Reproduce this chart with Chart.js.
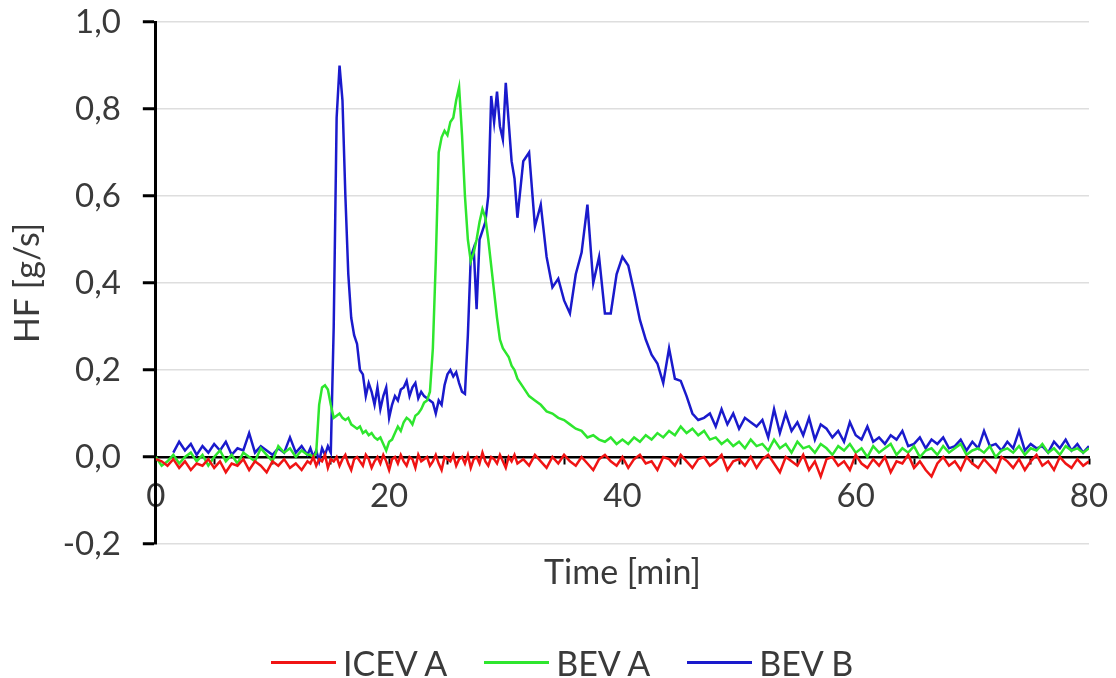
<!DOCTYPE html>
<html>
<head>
<meta charset="utf-8">
<script src="https://cdn.jsdelivr.net/npm/chart.js@4.4.1/dist/chart.umd.min.js"></script>
<style>
  html, body { margin: 0; padding: 0; background: #fff; }
  #wrap { position: relative; width: 1116px; height: 678px; }
  #legend {
    position: absolute; left: 271px; top: 642px; height: 40px;
    display: flex; align-items: center;
    font-family: Lato, sans-serif; font-size: 34px; color: #3a3a3a;
  }
  #legend .sw { display: inline-block; width: 65px; height: 3px; margin-right: 7px; }
  #legend .lb { margin-right: 37px; }
</style>
</head>
<body>
<div id="wrap">
  <canvas id="chart"></canvas>
  <div id="legend"></div>
</div>
<script>
// ─── Data ───────────────────────────────────────────────────────────────────

const TIME = [
  0, 0.5, 1, 1.5, 2, 2.5, 3, 3.5, 4, 4.5, 5, 5.5, 6, 6.5, 7, 7.5, 8, 8.5, 9, 9.5, 10, 10.5, 11, 11.5, 12, 12.5, 13,
  13.25, 13.5, 13.75, 14, 14.25, 14.5, 14.75, 15,
  15.25, 15.5, 15.75, 16, 16.25, 16.5, 16.75, 17,
  17.25, 17.5, 17.75, 18, 18.25, 18.5, 18.75, 19,
  19.25, 19.5, 19.75, 20, 20.25, 20.5, 20.75, 21,
  21.25, 21.5, 21.75, 22, 22.25, 22.5, 22.75, 23,
  23.25, 23.5, 23.75, 24, 24.25, 24.5, 24.75, 25,
  25.25, 25.5, 25.75, 26, 26.25, 26.5, 26.75, 27,
  27.25, 27.5, 27.75, 28, 28.25, 28.5, 28.75, 29,
  29.25, 29.5, 29.75, 30, 30.25, 30.5, 30.75, 31,
  31.5, 32, 32.5, 33, 33.5, 34, 34.5, 35, 35.5, 36,
  36.5, 37, 37.5, 38, 38.5, 39, 39.5, 40, 40.5, 41,
  41.5, 42, 42.5, 43, 43.5, 44, 44.5, 45, 45.5, 46,
  46.5, 47, 47.5, 48, 48.5, 49, 49.5, 50, 50.5, 51,
  51.5, 52, 52.5, 53, 53.5, 54, 54.5, 55, 55.5, 56,
  56.5, 57, 57.5, 58, 58.5, 59, 59.5, 60, 60.5, 61,
  61.5, 62, 62.5, 63, 63.5, 64, 64.5, 65, 65.5, 66,
  66.5, 67, 67.5, 68, 68.5, 69, 69.5, 70, 70.5, 71,
  71.5, 72, 72.5, 73, 73.5, 74, 74.5, 75, 75.5, 76,
  76.5, 77, 77.5, 78, 78.5, 79, 79.5, 80
];

const ICEV_A = [
  -0.005, -0.01, -0.02, -0.005, -0.025, -0.01, -0.03, -0.015, -0.02, -0.005, -0.025, -0.01, -0.035, -0.015,
  -0.02, -0.005, -0.03, -0.01, -0.02, -0.035, -0.01, -0.02, -0.005, -0.025, -0.015, -0.03, -0.01,
  -0.015, 0.0, -0.02, -0.005, -0.01, 0.005, -0.025, -0.005,
  -0.01, 0.0, -0.02, -0.005, 0.005, -0.015, -0.03, -0.005,
  0.0, -0.01, -0.02, 0.005, -0.005, -0.025, -0.01, 0.0,
  -0.015, 0.005, -0.01, -0.03, -0.005, 0.0, -0.015, 0.005,
  -0.01, -0.02, 0.0, -0.005, -0.025, 0.005, -0.01, -0.005,
  0.0, -0.02, -0.01, 0.005, -0.015, -0.03, 0.0, -0.005,
  -0.01, 0.005, -0.02, -0.005, 0.0, -0.015, 0.005, -0.025,
  -0.005, 0.0, -0.015, 0.01, -0.01, -0.02, 0.0, -0.005,
  -0.015, 0.005, -0.01, -0.025, 0.0, -0.01, 0.005, -0.015,
  -0.005, -0.02, 0.005, -0.01, -0.025, 0.0, -0.015, 0.005, -0.01, -0.02,
  0.0, -0.015, -0.03, -0.005, 0.005, -0.01, -0.02, 0.0, -0.025, -0.005,
  0.005, -0.015, -0.01, -0.03, 0.0, -0.005, -0.02, 0.005, -0.01, -0.025,
  -0.005, 0.0, -0.02, -0.01, 0.005, -0.03, -0.01, -0.005, -0.02, 0.0,
  -0.025, -0.005, 0.005, -0.015, -0.035, 0.0, -0.01, -0.02, 0.005, -0.03,
  -0.01, -0.045, -0.005, 0.0, -0.02, -0.01, -0.03, 0.005, -0.015, -0.025,
  -0.005, -0.02, 0.0, -0.035, -0.01, -0.015, 0.005, -0.025, -0.01, -0.03,
  -0.045, -0.015, 0.0, -0.02, -0.01, -0.03, 0.0, -0.015, -0.025, -0.005,
  -0.02, -0.035, 0.0, -0.01, -0.025, -0.005, -0.03, -0.01, 0.005, -0.02,
  -0.01, -0.03, 0.0, -0.015, -0.025, -0.005, -0.02, -0.01
];

const BEV_A = [
  0.0, -0.02, -0.01, 0.005, -0.015, 0.0, 0.01, -0.01, 0.005, -0.02, 0.0, 0.015, -0.01, 0.005,
  -0.015, 0.01, 0.0, -0.01, 0.02, 0.005, -0.01, 0.025, 0.01, 0.02, 0.0, 0.015, 0.005,
  0.005, 0.0, 0.01, 0.12, 0.16, 0.165, 0.155, 0.12,
  0.09, 0.095, 0.1, 0.09, 0.085, 0.09, 0.075, 0.07,
  0.065, 0.07, 0.055, 0.06, 0.05, 0.055, 0.045, 0.04,
  0.045, 0.03, 0.015, 0.035, 0.04, 0.055, 0.07, 0.06,
  0.08, 0.09, 0.085, 0.075, 0.095, 0.1, 0.11, 0.125,
  0.13, 0.15, 0.25, 0.45, 0.7, 0.735, 0.75, 0.74,
  0.77, 0.78, 0.82, 0.85, 0.74, 0.6, 0.5, 0.45,
  0.47, 0.5, 0.54, 0.57, 0.55, 0.5, 0.44, 0.38,
  0.32, 0.27, 0.25, 0.24, 0.23, 0.21, 0.2, 0.18,
  0.16, 0.14, 0.13, 0.12, 0.105, 0.1, 0.09, 0.085, 0.075, 0.065,
  0.06, 0.045, 0.05, 0.04, 0.035, 0.045, 0.03, 0.04, 0.03, 0.045,
  0.035, 0.05, 0.04, 0.055, 0.045, 0.06, 0.05, 0.07, 0.055, 0.065,
  0.05, 0.06, 0.04, 0.045, 0.03, 0.04, 0.025, 0.035, 0.02, 0.04,
  0.025, 0.03, 0.015, 0.04, 0.02, 0.03, 0.01, 0.035, 0.02, 0.025,
  0.01, 0.03, 0.02, 0.005, 0.025, 0.015, 0.03, 0.01, 0.02, 0.0,
  0.025, 0.01, 0.02, 0.03, 0.005, 0.02, 0.01, 0.025, 0.0, 0.015,
  0.02, 0.005, 0.025, 0.01, 0.02, 0.03, 0.005, 0.015, 0.02, 0.01,
  0.025, 0.0, 0.015, 0.02, 0.01, 0.025, 0.005, 0.02, 0.015, 0.03,
  0.01, 0.02, 0.005, 0.025, 0.015, 0.02, 0.01, 0.02
];

const BEV_B = [
  null, null, null, 0.01, 0.035, 0.015, 0.03, 0.005, 0.025, 0.01, 0.03, 0.015, 0.035, 0.005,
  0.02, 0.015, 0.055, 0.01, 0.025, 0.015, 0.005, 0.02, 0.01, 0.045, 0.01, 0.025, 0.005,
  0.02, 0.0, 0.015, -0.01, 0.02, 0.005, 0.025, 0.01,
  0.3, 0.78, 0.9, 0.82, 0.6, 0.42, 0.32, 0.28,
  0.26, 0.2, 0.19, 0.14, 0.17, 0.15, 0.12, 0.16,
  0.11, 0.14, 0.16, 0.09, 0.12, 0.14, 0.13, 0.155,
  0.16, 0.175, 0.14, 0.16, 0.17, 0.135, 0.15, 0.14,
  0.135, 0.13, 0.125, 0.1, 0.13, 0.12, 0.165, 0.19,
  0.2, 0.185, 0.195, 0.17, 0.15, 0.145, 0.28, 0.46,
  0.48, 0.34, 0.5, 0.52, 0.54, 0.6, 0.83, 0.77,
  0.84, 0.76, 0.73, 0.86, 0.77, 0.68, 0.64, 0.55,
  0.68, 0.7, 0.53, 0.58, 0.46, 0.39, 0.41, 0.36, 0.33, 0.42,
  0.47, 0.58, 0.4, 0.46, 0.33, 0.33, 0.42, 0.46, 0.44, 0.38,
  0.315, 0.27, 0.235, 0.215, 0.17, 0.25, 0.18, 0.175, 0.14, 0.1,
  0.085, 0.09, 0.1, 0.07, 0.11, 0.075, 0.1, 0.065, 0.09, 0.08,
  0.07, 0.085, 0.045, 0.11, 0.055, 0.1, 0.06, 0.08, 0.05, 0.09,
  0.04, 0.075, 0.065, 0.045, 0.06, 0.035, 0.08, 0.05, 0.04, 0.07,
  0.035, 0.045, 0.03, 0.05, 0.04, 0.06, 0.025, 0.03, 0.045, 0.02,
  0.04, 0.03, 0.045, 0.02, 0.025, 0.04, 0.015, 0.035, 0.02, 0.06,
  0.025, 0.03, 0.015, 0.035, 0.02, 0.06, 0.015, 0.03, 0.02, 0.025,
  0.01, 0.035, 0.02, 0.04, 0.015, 0.03, 0.01, 0.025
];

const SERIES = [
  { label: 'ICEV A', values: ICEV_A, color: '#f01414' },
  { label: 'BEV A', values: BEV_A, color: '#2ee62e' },
  { label: 'BEV B', values: BEV_B, color: '#1a1acc' }
];

const Y_TITLE = 'HF [g/s]';
const X_TITLE = 'Time [min]';

// ─── Chart ──────────────────────────────────────────────────────────────────

const TEXT = '#3a3a3a';
const FONT = 'Lato, sans-serif';

const datasets = SERIES.map(s => ({
  label: s.label,
  data: TIME.map((t, i) => ({ x: t, y: s.values[i] })),
  borderColor: s.color,
  backgroundColor: s.color,
  borderWidth: 2.5,
  pointRadius: 0,
  tension: 0,
  fill: false
}));

new Chart(document.getElementById('chart'), {
  type: 'line',
  data: { datasets },
  options: {
    responsive: true,
    maintainAspectRatio: false,
    animation: false,
    events: [],
    layout: { padding: { left: 0, right: 27, top: 22, bottom: 134 } },
    plugins: {
      legend: { display: false },
      tooltip: { enabled: false }
    },
    scales: {
      x: {
        type: 'linear',
        position: { y: 0 },
        min: 0,
        max: 80,
        // label overflow handled by layout padding instead
        afterFit: s => { s.paddingLeft = 10; s.paddingRight = 20; },
        ticks: {
          stepSize: 5,
          autoSkip: false,
          maxRotation: 0,
          padding: 14,
          color: TEXT,
          font: { family: FONT, size: 33 },
          callback: v => (v % 20 === 0 ? String(v) : '')
        },
        grid: { drawOnChartArea: false, drawTicks: true, tickLength: 6, tickColor: '#000', tickWidth: 2 },
        border: { color: '#000', width: 2.5 },
        title: {
          display: true, text: X_TITLE, color: TEXT,
          font: { family: FONT, size: 34 },
          padding: { top: 22, bottom: 0 }
        }
      },
      y: {
        min: -0.2,
        max: 1.0,
        afterFit: s => { s.paddingTop = 20; s.paddingBottom = 20; },
        ticks: {
          stepSize: 0.2,
          padding: 22,
          color: TEXT,
          font: { family: FONT, size: 33 },
          callback: v => (Math.abs(v) < 1e-9 ? 0 : v).toFixed(1).replace('.', ',')
        },
        grid: { color: '#dedede', lineWidth: 1.5, tickColor: '#000', tickWidth: 3, tickLength: 13 },
        border: { color: '#000', width: 3 },
        title: {
          display: true, text: Y_TITLE, color: TEXT,
          font: { family: FONT, size: 34 },
          padding: { top: 8, bottom: -8 }
        }
      }
    }
  }
});

// ─── Legend ─────────────────────────────────────────────────────────────────

const legendEl = document.getElementById('legend');
SERIES.forEach(s => {
  const sw = document.createElement('span');
  sw.className = 'sw';
  sw.style.background = s.color;
  const lb = document.createElement('span');
  lb.className = 'lb';
  lb.textContent = s.label;
  legendEl.appendChild(sw);
  legendEl.appendChild(lb);
});
</script>
</body>
</html>
